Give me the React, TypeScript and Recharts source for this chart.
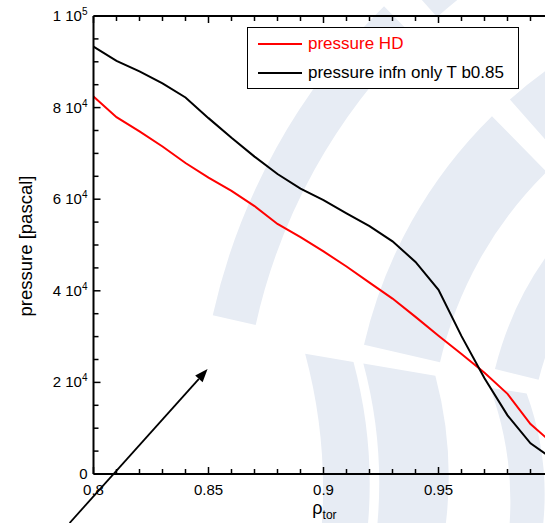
import React from 'react';
import {
  LineChart,
  Line,
  XAxis,
  YAxis,
  Legend,
  ReferenceLine
} from 'recharts';

// rho_tor grid and pressure profiles (pascal)
const rho = [0.8, 0.81, 0.82, 0.83, 0.84, 0.85, 0.86, 0.87, 0.88, 0.89, 0.9, 0.91, 0.92, 0.93, 0.94, 0.95, 0.96, 0.97, 0.98, 0.99, 1.0];
const pressureHD = [82400, 77900, 74800, 71500, 67900, 64700, 61800, 58500, 54600, 51700, 48600, 45300, 41800, 38300, 34300, 30200, 26200, 22100, 17500, 10900, 6500];
const pressureInfn = [93300, 90200, 87900, 85300, 82200, 77700, 73400, 69300, 65500, 62300, 59800, 56900, 54100, 50800, 46300, 40200, 30100, 20900, 12800, 6700, 3200];

const xTicks = [0.8, 0.81, 0.82, 0.83, 0.84, 0.85, 0.86, 0.87, 0.88, 0.89, 0.9, 0.91, 0.92, 0.93, 0.94, 0.95, 0.96, 0.97, 0.98, 0.99, 1.0];
const yTicks = [0, 5000, 10000, 15000, 20000, 25000, 30000, 35000, 40000, 45000, 50000, 55000, 60000, 65000, 70000, 75000, 80000, 85000, 90000, 95000, 100000];

// arrow annotation (data coords)
const arrowFrom = { x: 0.7896, y: -10700 };
const arrowTo = { x: 0.8496, y: 22900 };

const data = rho.map((r, i) => ({ rho: r, hd: pressureHD[i], infn: pressureInfn[i] }));

const FONT = '"Liberation Sans", Arial, Helvetica, sans-serif';
const WATERMARK = '#e7ecf4';

const isMajorX = (v: number) => Math.round(v * 100) % 5 === 0;
const isMajorY = (v: number) => v % 20000 === 0;

// ring segment for the background logo (pixel space, angles in degrees, ccw from +x)
const ringPath = (cx: number, cy: number, r1: number, r2: number, t0: number, t1: number) => {
  const pt = (r: number, t: number) => {
    const a = (t * Math.PI) / 180;
    return `${cx + r * Math.cos(a)},${cy - r * Math.sin(a)}`;
  };
  const large = Math.abs(t1 - t0) > 180 ? 1 : 0;
  return `M${pt(r2, t0)} A${r2},${r2} 0 ${large} 0 ${pt(r2, t1)} L${pt(r1, t1)} A${r1},${r1} 0 ${large} 1 ${pt(r1, t0)} Z`;
};

const Watermark = () => (
  <svg width={545} height={523} style={{ position: 'absolute', left: 0, top: 0 }}>
    <g fill={WATERMARK}>
      {/* upper rings */}
      <path d={ringPath(820, 450, 578, 622, 134.5, 167.5)} />
      <path d={ringPath(820, 450, 578, 622, 60, 131.5)} />
      <path d={ringPath(820, 450, 390, 468, 134.5, 167)} />
      <path d={ringPath(820, 450, 390, 468, 60, 131.5)} />
      <path d={ringPath(820, 450, 290, 335, 134.5, 166)} />
      {/* lower rings */}
      <path d={ringPath(820, 440, 473, 522, 195, 170.5)} />
      <path d={ringPath(820, 440, 390, 463, 195, 170.5)} />
      <path d={ringPath(820, 440, 297, 334, 200, 171)} />
    </g>
  </svg>
);

const BottomTick = (props: any) => {
  const { x, y, payload } = props;
  const v = payload.value;
  const major = isMajorX(v);
  return (
    <g>
      <line x1={x} x2={x} y1={y} y2={y - (major ? 7 : 5)} stroke="#000" strokeWidth={1.5} />
      {major && v < 1 && (
        <text x={x} y={y + 21} textAnchor="middle" fontSize={15} fontFamily={FONT} fill="#000">
          {String(v)}
        </text>
      )}
    </g>
  );
};

const TopTick = (props: any) => {
  const { x, y, payload } = props;
  const major = isMajorX(payload.value);
  return <line x1={x} x2={x} y1={y} y2={y + (major ? 7 : 5)} stroke="#000" strokeWidth={1.5} />;
};

const LeftTick = (props: any) => {
  const { x, y, payload } = props;
  const v = payload.value;
  const major = isMajorY(v);
  let label: React.ReactNode = null;
  if (major) {
    if (v === 0) {
      label = '0';
    } else {
      const exp = v >= 100000 ? 5 : 4;
      const mant = v / Math.pow(10, exp);
      label = (
        <>
          {`${mant} 10`}
          <tspan dy={-6} fontSize={10}>{exp}</tspan>
        </>
      );
    }
  }
  return (
    <g>
      <line x1={x} x2={x + (major ? 7 : 5)} y1={y} y2={y} stroke="#000" strokeWidth={1.5} />
      {major && (
        <text x={x - 6} y={y + 5} textAnchor="end" fontSize={15} fontFamily={FONT} fill="#000">
          {label}
        </text>
      )}
    </g>
  );
};

const XLabel = (props: any) => {
  const { viewBox } = props;
  const cx = viewBox.x + 231;
  const cy = viewBox.y + 40;
  return (
    <text x={cx} y={cy} textAnchor="middle" fontFamily={FONT} fill="#000">
      <tspan fontSize={18}>ρ</tspan>
      <tspan fontSize={12} dy={5}>tor</tspan>
    </text>
  );
};

const YLabel = (props: any) => {
  const { viewBox } = props;
  const cx = viewBox.x - 61;
  const cy = 246;
  return (
    <text
      x={cx}
      y={cy}
      textAnchor="middle"
      fontSize={18.5}
      fontFamily={FONT}
      fill="#000"
      transform={`rotate(-90, ${cx}, ${cy})`}
    >
      pressure [pascal]
    </text>
  );
};

const LegendBox = () => (
  <div
    style={{
      width: '100%',
      height: '100%',
      boxSizing: 'border-box',
      border: '1px solid #000',
      background: '#fff',
      fontFamily: FONT,
      fontSize: 17,
      position: 'relative'
    }}
  >
    {[
      { name: 'pressure HD', color: '#ff0000', top: 16 },
      { name: 'pressure infn only T b0.85', color: '#000', top: 45 }
    ].map((item) => (
      <div key={item.name} style={{ position: 'absolute', left: 0, top: item.top - 11, height: 22, display: 'flex', alignItems: 'center' }}>
        <div style={{ marginLeft: 10, width: 44, height: 2, background: item.color }} />
        <span style={{ marginLeft: 6, color: item.color, whiteSpace: 'nowrap' }}>{item.name}</span>
      </div>
    ))}
  </div>
);

const Arrow = (props: any) => {
  const { x1, y1, x2, y2 } = props;
  const ang = Math.atan2(y2 - y1, x2 - x1);
  const len = 13;
  const half = 5;
  const bx = x2 - len * Math.cos(ang);
  const by = y2 - len * Math.sin(ang);
  const px = -Math.sin(ang) * half;
  const py = Math.cos(ang) * half;
  return (
    <g>
      <line x1={x1} y1={y1} x2={bx} y2={by} stroke="#000" strokeWidth={1.8} />
      <polygon points={`${x2},${y2} ${bx + px},${by + py} ${bx - px},${by - py}`} fill="#000" />
    </g>
  );
};

export default function App() {
  return (
    <div style={{ position: 'fixed', left: 0, top: 0, width: 545, height: 523, overflow: 'hidden', background: '#fff' }}>
      <Watermark />
      <LineChart
        width={600}
        height={523}
        data={data}
        margin={{ top: 15, left: 92.5, right: 46.5, bottom: 48 }}
      >
        <XAxis
          xAxisId="x"
          dataKey="rho"
          type="number"
          domain={[0.8, 1.0]}
          ticks={xTicks}
          interval={0}
          height={1}
          tickSize={0}
          tickMargin={0}
          tickLine={false}
          tick={<BottomTick />}
          axisLine={{ stroke: '#000', strokeWidth: 2 }}
          label={<XLabel />}
        />
        <XAxis
          xAxisId="top"
          orientation="top"
          dataKey="rho"
          type="number"
          domain={[0.8, 1.0]}
          ticks={xTicks}
          interval={0}
          height={1}
          tickSize={0}
          tickMargin={0}
          tickLine={false}
          tick={<TopTick />}
          axisLine={{ stroke: '#000', strokeWidth: 2 }}
        />
        <YAxis
          yAxisId="y"
          type="number"
          domain={[0, 100000]}
          ticks={yTicks}
          interval={0}
          width={1}
          tickSize={0}
          tickMargin={0}
          tickLine={false}
          tick={<LeftTick />}
          axisLine={{ stroke: '#000', strokeWidth: 2 }}
          label={<YLabel />}
        />
        <Legend
          layout="horizontal"
          verticalAlign="middle"
          align="center"
          content={<LegendBox />}
          wrapperStyle={{ position: 'absolute', left: 247, top: 27, width: 272, height: 62 }}
        />
        <Line
          xAxisId="x"
          yAxisId="y"
          type="linear"
          dataKey="hd"
          name="pressure HD"
          stroke="#ff0000"
          strokeWidth={2}
          dot={false}
          isAnimationActive={false}
        />
        <Line
          xAxisId="x"
          yAxisId="y"
          type="linear"
          dataKey="infn"
          name="pressure infn only T b0.85"
          stroke="#000"
          strokeWidth={2}
          dot={false}
          isAnimationActive={false}
        />
        <ReferenceLine
          xAxisId="x"
          yAxisId="y"
          segment={[arrowFrom, arrowTo]}
          ifOverflow="visible"
          shape={(p: any) => <Arrow {...p} />}
        />
      </LineChart>
    </div>
  );
}
